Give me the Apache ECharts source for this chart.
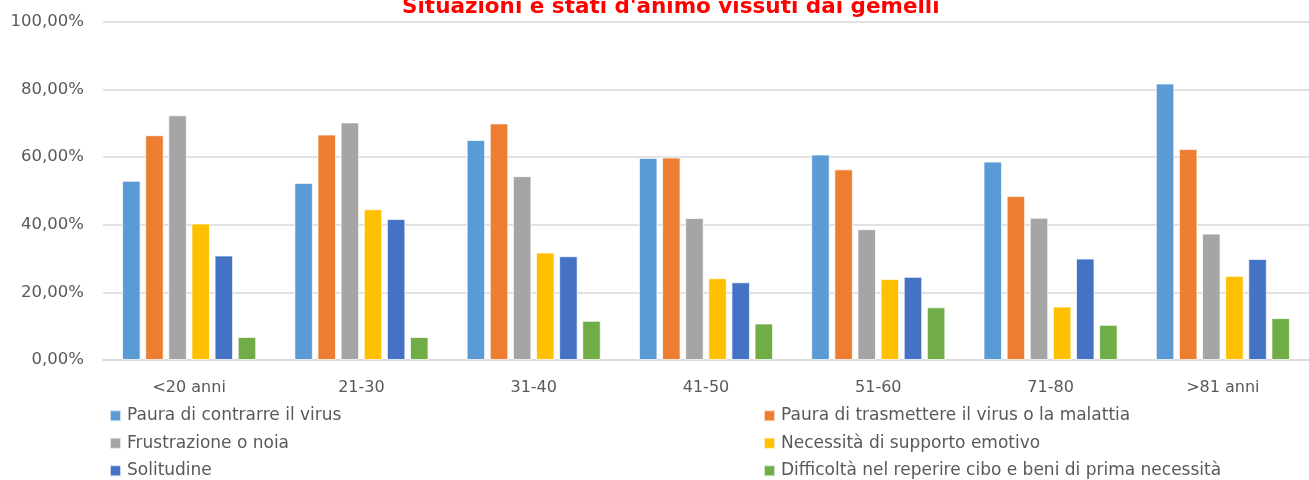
<!DOCTYPE html>
<html>
<head>
<meta charset="utf-8">
<script src="https://cdn.jsdelivr.net/npm/echarts@6/dist/echarts.min.js"></script>
<style>
  html, body { margin: 0; padding: 0; background: #fff; }
  #chart { width: 1309px; height: 480px; }
</style>
</head>
<body>
<div id="chart"></div>
<script>
// fasce d'età
const categories = ['<20 anni', '21-30', '31-40', '41-50', '51-60', '71-80', '>81 anni']

// valori in %
const paura = [53.0, 52.4, 65.1, 59.8, 60.8, 58.7, 81.8]
const trasmettere = [66.5, 66.7, 70.0, 59.9, 56.4, 48.5, 62.4]
const frustrazione = [72.4, 70.3, 54.4, 42.0, 38.7, 42.1, 37.4]
const supporto = [40.4, 44.6, 31.8, 24.2, 24.0, 15.8, 24.9]
const solitudine = [30.9, 41.7, 30.7, 23.0, 24.6, 30.0, 29.9]
const difficolta = [6.8, 6.8, 11.6, 10.8, 15.6, 10.4, 12.4]

const seriesNames = [
    'Paura di contrarre il virus',
    'Paura di trasmettere il virus o la malattia',
    'Frustrazione o noia',
    'Necessità di supporto emotivo',
    'Solitudine',
    'Difficoltà nel reperire cibo e beni di prima necessità'
]
const seriesData = [paura, trasmettere, frustrazione, supporto, solitudine, difficolta]
const colors = ['#5B9BD5', '#ED7D31', '#A5A5A5', '#FFC000', '#4472C4', '#70AD47']

const font = 'DejaVu Sans'
const textColor = '#595959'

let chart = echarts.init(document.getElementById('chart'))

const legendStyle = {
    orient: 'vertical',
    icon: 'rect',
    padding: 0,
    height: 90,
    itemWidth: 11,
    itemHeight: 11,
    itemGap: 8,
    selectedMode: false,
    textStyle: { color: textColor, fontFamily: font, fontSize: 17, lineHeight: 19.5, padding: [0, 0, 0, 1] }
}

let option = {
    backgroundColor: '#fff',
    color: colors,
    animation: false,
    title: {
        text: "Situazioni e stati d'animo vissuti dai gemelli",
        left: 397,
        top: -9,
        textStyle: {
            color: '#FF0000',
            fontFamily: font,
            fontWeight: 'bold',
            fontSize: 21.5
        }
    },
    legend: [
        Object.assign({ left: 109, top: 406, data: [seriesNames[0], seriesNames[2], seriesNames[4]] }, legendStyle),
        Object.assign({ left: 763, top: 406, data: [seriesNames[1], seriesNames[3], seriesNames[5]] }, legendStyle)
    ],
    grid: {
        left: 103,
        right: -8,
        top: 22,
        bottom: 120,
        containLabel: false
    },
    xAxis: {
        type: 'category',
        data: categories,
        axisTick: { show: false },
        axisLine: { lineStyle: { color: '#D9D9D9', width: 1.5 } },
        axisLabel: { color: textColor, fontFamily: font, fontSize: 16, margin: 20 }
    },
    yAxis: {
        type: 'value',
        min: 0,
        max: 100,
        interval: 20,
        axisLine: { show: false },
        axisTick: { show: false },
        splitLine: { lineStyle: { color: '#D9D9D9', width: 1.5 } },
        axisLabel: {
            color: textColor,
            fontFamily: font,
            fontSize: 16.5,
            margin: 19,
            formatter: v => v.toFixed(2).replace('.', ',') + '%'
        }
    },
    series: seriesData.map((d, i) => ({
        name: seriesNames[i],
        type: 'bar',
        data: d,
        barWidth: 18.5,
        barGap: '25%',
        itemStyle: { borderColor: 'rgba(255,255,255,0.7)', borderWidth: 1 }
    }))
}

chart.setOption(option)
</script>
</body>
</html>
